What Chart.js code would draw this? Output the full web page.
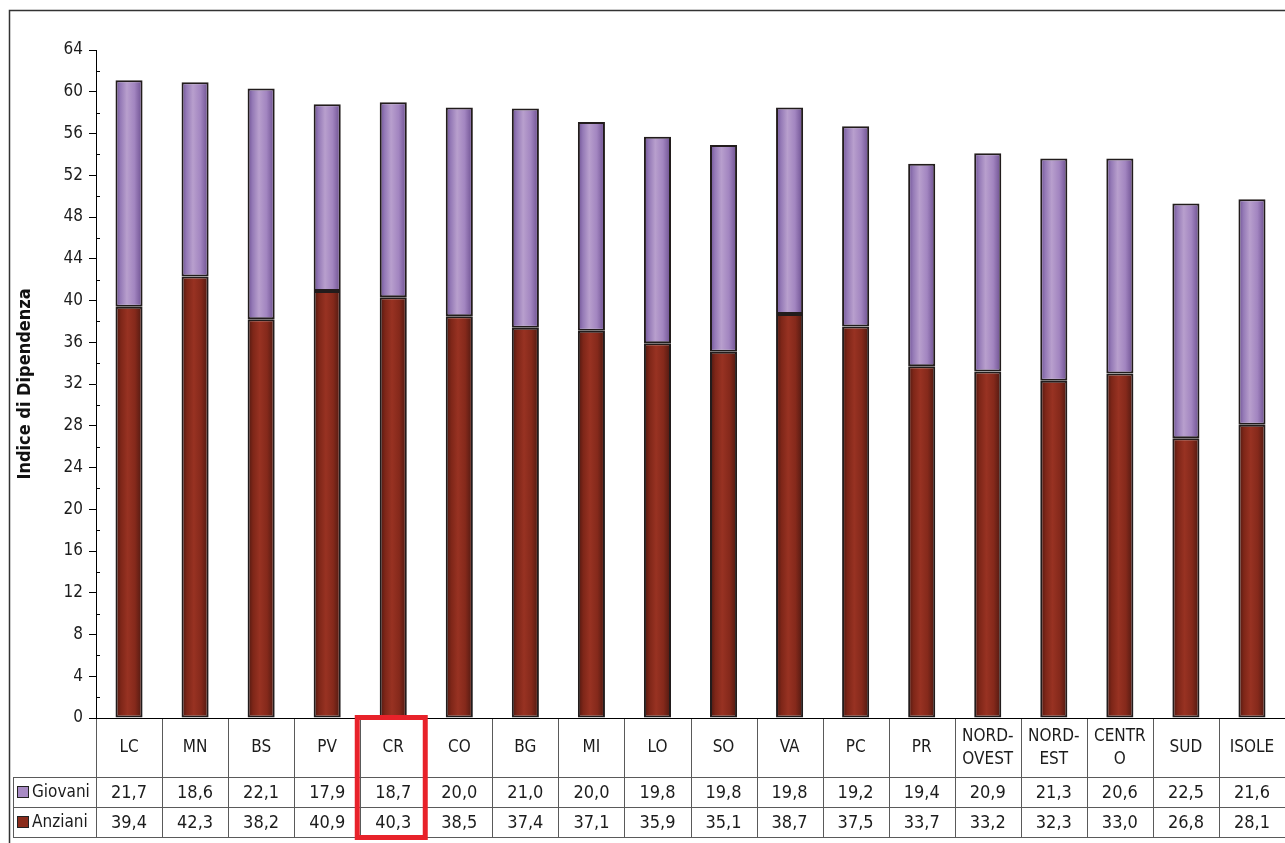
<!DOCTYPE html>
<html>
<head>
<meta charset="utf-8">
<script src="https://cdn.jsdelivr.net/npm/chart.js@4/dist/chart.umd.min.js"></script>
<style>
  html, body { margin: 0; padding: 0; background: #fff; }
  canvas { display: block; }
</style>
</head>
<body>
<canvas id="chartDipendenza" width="1285" height="843"></canvas>
<script>
// Indice di Dipendenza per provincia / ripartizione
const categorie = ['LC', 'MN', 'BS', 'PV', 'CR', 'CO', 'BG', 'MI', 'LO', 'SO', 'VA', 'PC', 'PR',
    ['NORD-', 'OVEST'], ['NORD-', 'EST'], ['CENTR', 'O'], 'SUD', 'ISOLE'];
const giovani = [21.7, 18.6, 22.1, 17.9, 18.7, 20.0, 21.0, 20.0, 19.8, 19.8, 19.8, 19.2, 19.4, 20.9, 21.3, 20.6, 22.5, 21.6];
const anziani = [39.4, 42.3, 38.2, 40.9, 40.3, 38.5, 37.4, 37.1, 35.9, 35.1, 38.7, 37.5, 33.7, 33.2, 32.3, 33.0, 26.8, 28.1];
const yTicks = { min: 0, max: 64, step: 4 };
const evidenziata = 'CR';

const FONT = '"DejaVu Sans Condensed", "DejaVu Sans", sans-serif';
const BAR_PCT = 0.41;

// gradiente orizzontale per ogni barra (effetto cilindro)
function barGradient(stops) {
    return function (ctx) {
        const chart = ctx.chart;
        const x = chart.scales && chart.scales.x;
        if (!x || ctx.dataIndex === undefined) return stops[2][1];
        const cw = (x.right - x.left) / categorie.length;
        const cx = x.getPixelForValue(ctx.dataIndex);
        const w = cw * BAR_PCT;
        if (!isFinite(cx) || !isFinite(w) || w <= 0) return stops[2][1];
        const g = chart.ctx.createLinearGradient(cx - w / 2, 0, cx + w / 2, 0);
        stops.forEach(s => g.addColorStop(s[0], s[1]));
        return g;
    };
}

const viola = [[0, '#6c4f92'], [0.18, '#9479b6'], [0.42, '#b89fcd'], [0.7, '#a285c0'], [1, '#6a4d8e']];
const marrone = [[0, '#4a1710'], [0.2, '#7e2618'], [0.45, '#983222'], [0.72, '#85291b'], [1, '#4c1810']];

const tabellaPlugin = {
    id: 'tabella',
    afterDraw(chart) {
        const c = chart.ctx;
        const x = chart.scales.x;
        const y = chart.scales.y;
        const area = chart.chartArea;
        const cw = (area.right - area.left) / categorie.length;
        const y0 = area.bottom;
        const r1 = y0 + 59, r2 = r1 + 30, r3 = r2 + 30;
        const tabLeft = 13;
        c.save();

        // tacche secondarie asse y
        c.strokeStyle = '#000';
        c.lineWidth = 1;
        c.beginPath();
        for (let v = yTicks.min + yTicks.step / 2; v < yTicks.max; v += yTicks.step) {
            const py = Math.round(y.getPixelForValue(v)) + 0.5;
            c.moveTo(area.left, py);
            c.lineTo(area.left + 4, py);
        }
        c.stroke();

        // griglia tabella
        c.strokeStyle = '#5a5a5a';
        c.beginPath();
        [r1, r2, r3].forEach(r => { c.moveTo(tabLeft, r + 0.5); c.lineTo(area.right, r + 0.5); });
        c.moveTo(tabLeft + 0.5, r1); c.lineTo(tabLeft + 0.5, r3);
        for (let i = 0; i <= categorie.length; i++) {
            const px = Math.round(area.left + i * cw) + 0.5;
            c.moveTo(px, y0); c.lineTo(px, r3);
        }
        c.stroke();
        c.strokeStyle = '#000';
        c.beginPath();
        c.moveTo(area.left - 7, y0 + 0.5); c.lineTo(area.right, y0 + 0.5);
        c.stroke();

        // etichette categorie e valori
        c.fillStyle = '#1c1c1c';
        c.textAlign = 'center';
        c.textBaseline = 'middle';
        const fmt = v => v.toFixed(1).replace('.', ',');
        categorie.forEach((lab, i) => {
            const cx = x.getPixelForValue(i);
            const mid = (y0 + r1) / 2;
            c.font = '17px ' + FONT;
            if (Array.isArray(lab)) {
                c.fillText(lab[0], cx, mid - 11);
                c.fillText(lab[1], cx, mid + 12);
            } else {
                c.fillText(lab, cx, mid);
            }
            c.font = '18px ' + FONT;
            c.fillText(fmt(giovani[i]), cx, (r1 + r2) / 2 + 1);
            c.fillText(fmt(anziani[i]), cx, (r2 + r3) / 2 + 1);
        });

        // legenda nella tabella
        const righe = [['Giovani', '#a88bc4', (r1 + r2) / 2], ['Anziani', '#8a2c1c', (r2 + r3) / 2]];
        c.textAlign = 'left';
        c.font = '17px ' + FONT;
        righe.forEach(([nome, col, cy]) => {
            c.fillStyle = col;
            c.fillRect(17, cy - 6, 12, 12);
            c.strokeStyle = '#222';
            c.lineWidth = 1;
            c.strokeRect(17.5, cy - 5.5, 11, 11);
            c.fillStyle = '#1c1c1c';
            c.fillText(nome, 32, cy + 1);
        });

        // riquadro rosso sulla categoria evidenziata
        const idx = categorie.indexOf(evidenziata);
        const ex = x.getPixelForValue(idx);
        c.strokeStyle = '#e8222a';
        c.lineWidth = 5;
        c.strokeRect(ex - 36, y0 - 0.5, 68, r3 - y0 + 1);

        // cornice
        c.strokeStyle = '#333';
        c.lineWidth = 1.5;
        c.beginPath();
        c.moveTo(9.5, chart.height); c.lineTo(9.5, 10.5); c.lineTo(chart.width, 10.5);
        c.stroke();
        c.restore();
    }
};

const ctxDip = document.getElementById('chartDipendenza').getContext('2d');
new Chart(ctxDip, {
    type: 'bar',
    data: {
        labels: categorie,
        datasets: [{
            label: 'Anziani',
            data: anziani,
            backgroundColor: barGradient(marrone),
            borderColor: '#221c1c',
            borderWidth: 2,
            borderSkipped: false,
            barPercentage: BAR_PCT,
            categoryPercentage: 1
        }, {
            label: 'Giovani',
            data: giovani,
            backgroundColor: barGradient(viola),
            borderColor: '#221c1c',
            borderWidth: 2,
            borderSkipped: false,
            barPercentage: BAR_PCT,
            categoryPercentage: 1
        }]
    },
    options: {
        responsive: false,
        animation: false,
        layout: { padding: { top: 50, bottom: 125, left: 0, right: 0 } },
        plugins: {
            legend: { display: false },
            tooltip: { enabled: false }
        },
        scales: {
            x: {
                stacked: true,
                display: false
            },
            y: {
                stacked: true,
                min: yTicks.min,
                max: yTicks.max,
                afterFit: s => { s.width = 96; },
                ticks: {
                    stepSize: yTicks.step,
                    padding: 6,
                    color: '#1c1c1c',
                    font: { family: FONT, size: 17 }
                },
                grid: {
                    drawOnChartArea: false,
                    tickLength: 7,
                    color: '#000'
                },
                border: { color: '#000', width: 1 },
                title: {
                    display: true,
                    text: 'Indice di Dipendenza',
                    color: '#111',
                    padding: { top: 15 },
                    font: { family: FONT, size: 18, weight: 'bold' }
                }
            }
        }
    },
    plugins: [tabellaPlugin]
});
</script>
</body>
</html>
